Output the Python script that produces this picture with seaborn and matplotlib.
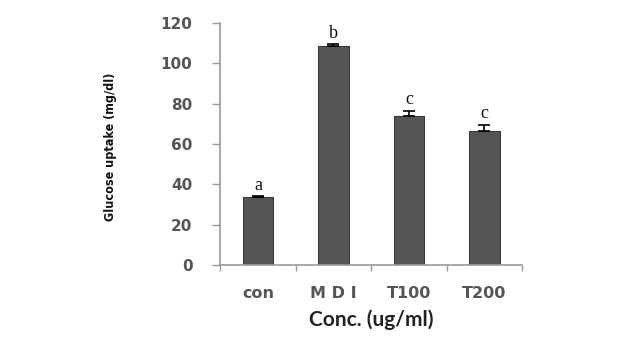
import matplotlib
matplotlib.use("Agg")
import matplotlib.pyplot as plt
import seaborn as sns
import numpy as np
import pandas as pd

categories = ["con", "M D I", "T100", "T200"]
values = [33.5, 108.5, 74.0, 66.3]
errors = [0.6, 1.0, 2.6, 3.3]
letters = ["a", "b", "c", "c"]
yticks = [0, 20, 40, 60, 80, 100, 120]

sns.set_theme(style="white")
plt.rcParams['font.family'] = ['DejaVu Sans']

fig = plt.figure(figsize=(6.4, 3.61), dpi=100)
ax = fig.add_axes([0.344, 0.266, 0.472, 0.670])

df = pd.DataFrame({"cat": categories, "val": values})
sns.barplot(data=df, x="cat", y="val", color="#555555", width=0.4,
            edgecolor="#3a3a3a", linewidth=0.8, errorbar=None, ax=ax,
            saturation=1)
pos = np.arange(len(categories))
ax.errorbar(pos, values, yerr=[np.zeros(len(errors)), errors], fmt="none",
            ecolor="black", elinewidth=1.2, capsize=4, capthick=1.2)
for i, (v, e, l) in enumerate(zip(values, errors, letters)):
    ax.text(i, v + e + 1.2, l, ha="center", va="bottom",
            family=["Liberation Serif", "DejaVu Serif"], fontsize=13, color="#111111")

ax.set_ylim(0, 120)
ax.set_xlim(-0.5, 3.5)
ax.set_yticks(yticks)
ax.set_yticklabels([str(t) for t in yticks], color="#555555", fontsize=11,
                   fontweight="bold")
ax.set_xticks(pos)
ax.set_xticklabels(categories, color="#555555", fontsize=11.5, fontweight="bold")
ax.set_xticks([-0.5, 0.5, 1.5, 2.5, 3.5], minor=True)
ax.tick_params(axis="x", which="major", length=0, pad=15)
ax.tick_params(axis="x", which="minor", length=4, width=1, color="#999999", direction="out", bottom=True)
ax.tick_params(axis="y", which="major", length=6, width=1, color="#999999", direction="out", left=True, pad=14)

for s in ["top", "right"]:
    ax.spines[s].set_visible(False)
for s in ["left", "bottom"]:
    ax.spines[s].set_color("#999999")
    ax.spines[s].set_linewidth(1.2)

ax.set_xlabel("Conc. (ug/ml)", family=["Lato", "DejaVu Sans"], fontweight="bold",
              fontsize=15, color="#222222", labelpad=6)
ax.set_ylabel("Glucose uptake (mg/dl)", family=["DejaVu Sans"], fontstretch="condensed",
              fontweight="bold", fontsize=9, color="#111111")
ax.yaxis.set_label_coords(-0.34, 0.49)

fig.savefig("out.png", dpi=100, facecolor="white")
